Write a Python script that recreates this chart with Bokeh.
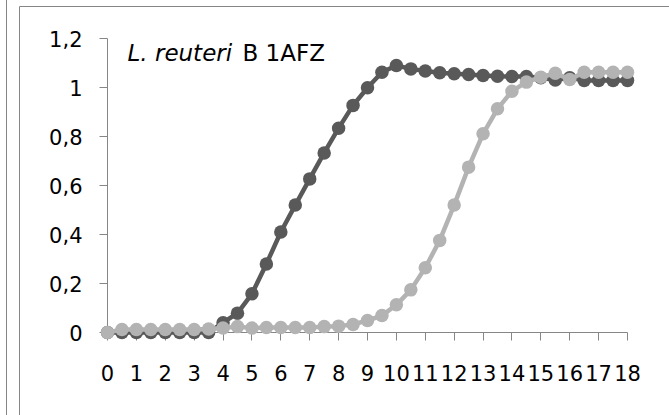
from bokeh.plotting import figure
from bokeh.models import FixedTicker, Label
from bokeh.embed import file_html
from bokeh.resources import INLINE

# ---- data ----
hours = [0, 0.5, 1, 1.5, 2, 2.5, 3, 3.5, 4, 4.5, 5, 5.5, 6, 6.5, 7, 7.5, 8, 8.5, 9, 9.5,
         10, 10.5, 11, 11.5, 12, 12.5, 13, 13.5, 14, 14.5, 15, 15.5, 16, 16.5, 17, 17.5, 18]
series_dark = [0.0, 0.0, 0.0, 0.0, 0.0, 0.0, 0.0, 0.0,
               0.04, 0.079, 0.158, 0.28, 0.41, 0.52, 0.627, 0.733, 0.834, 0.927, 0.999, 1.062,
               1.09, 1.076, 1.067, 1.06, 1.056, 1.053, 1.049, 1.046, 1.045, 1.045, 1.04, 1.031,
               1.04, 1.029, 1.029, 1.029, 1.029]
series_light = [0.0, 0.012, 0.012, 0.012, 0.012, 0.012, 0.012, 0.014,
                0.018, 0.024, 0.018, 0.02, 0.02, 0.02, 0.02, 0.024, 0.026, 0.033, 0.049, 0.069,
                0.113, 0.174, 0.264, 0.376, 0.52, 0.675, 0.811, 0.913, 0.985, 1.022, 1.042, 1.058,
                1.033, 1.062, 1.062, 1.062, 1.062]
x_ticks = list(range(0, 19))
y_ticks = [0, 0.2, 0.4, 0.6, 0.8, 1.0, 1.2]
y_tick_labels = ["0", "0,2", "0,4", "0,6", "0,8", "1", "1,2"]
title_italic = "L. reuteri"
title_rest = "B 1AFZ"

# ---- layout geometry (pixels) ----
W, H = 669, 415
x0_px, x18_px = 107, 627             # where 0 and 18 sit
y0_px, y12_px = 332, 38              # where 0 and 1.2 sit
sx = (x18_px - x0_px) / 18.0
sy = (y0_px - y12_px) / 1.2

p = figure(width=W, height=H, output_backend="svg", toolbar_location=None,
           x_range=(0, 18), y_range=(0, 1.2),
           min_border_left=x0_px, min_border_right=W - x18_px,
           min_border_top=y12_px, min_border_bottom=H - y0_px)
p.outline_line_color = None
p.xgrid.visible = False
p.ygrid.visible = False
p.background_fill_color = "white"
p.border_fill_color = "white"

axis_col = "#868686"
font = "DejaVu Sans"
for ax in (p.xaxis[0], p.yaxis[0]):
    ax.axis_line_color = axis_col
    ax.axis_line_width = 1
    ax.major_tick_line_color = axis_col
    ax.major_tick_in = 0
    ax.major_tick_out = 8
    ax.minor_tick_line_color = None
    ax.major_label_text_font = font
    ax.major_label_text_font_size = "21px"
    ax.major_label_text_color = "black"

p.xaxis[0].ticker = FixedTicker(ticks=x_ticks)
p.xaxis[0].major_label_standoff = 24
p.yaxis[0].ticker = FixedTicker(ticks=y_ticks)
p.yaxis[0].major_label_overrides = {t: s for t, s in zip(y_ticks, y_tick_labels)}
p.yaxis[0].major_label_standoff = 17

dark_col = "#595959"
light_col = "#b3b3b3"
rs = []
rs.append(p.line(hours, series_dark, line_color=dark_col, line_width=4.5))
rs.append(p.scatter(hours, series_dark, size=13.5, fill_color=dark_col, line_color=None))
rs.append(p.line(hours, series_light, line_color=light_col, line_width=4.5))
rs.append(p.scatter(hours, series_light, size=13.5, fill_color=light_col, line_color=None))
for r in rs:
    r.level = "overlay"

# title (italic species name + strain)
title_y = (y0_px - 52) / sy
p.add_layout(Label(x=(127 - x0_px) / sx, y=title_y, text=title_italic,
                   text_font=font, text_font_size="23px", text_font_style="italic",
                   text_color="black", text_baseline="alphabetic"))
p.add_layout(Label(x=(242 - x0_px) / sx, y=title_y, text=title_rest,
                   text_font=font, text_font_size="23px",
                   text_color="black", text_baseline="alphabetic"))

# chart-area border lines (decoration, placed in pixel terms)
def dx(px):
    return (px - x0_px) / sx

def dy(py):
    return (y0_px - py) / sy

border = p.segment(x0=[dx(19), dx(19), dx(6)], y0=[dy(6), dy(6), dy(-5)],
                   x1=[dx(19), dx(700), dx(6)], y1=[dy(430), dy(6), dy(430)],
                   line_color=axis_col, line_width=1)
border.level = "overlay"

open("out.html", "w").write(file_html(p, INLINE))
